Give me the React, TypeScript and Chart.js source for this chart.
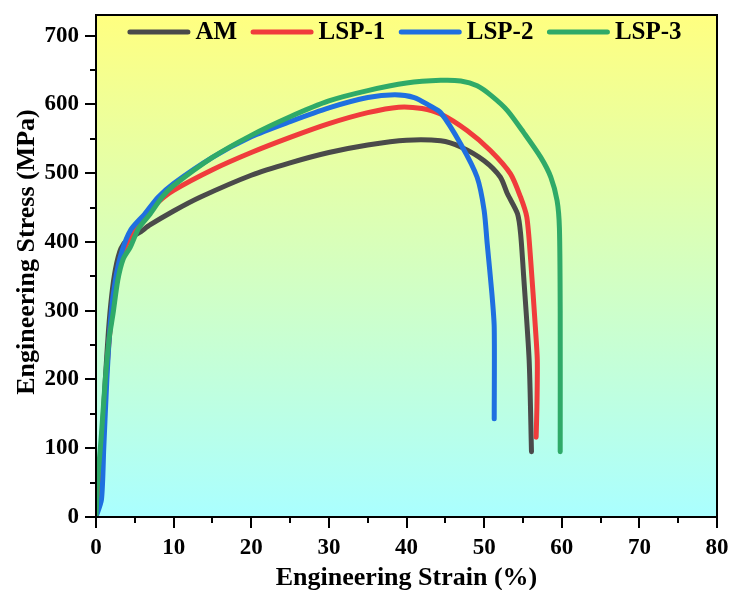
import React, { useEffect, useRef } from 'react';
import { Chart, registerables } from 'chart.js';

Chart.register(...registerables);

const seriesNames = ['AM', 'LSP-1', 'LSP-2', 'LSP-3'];
const seriesColors = ['#4a4a4a', '#f03c3c', '#1f6fe0', '#2faa68'];

const xTicks = [0, 10, 20, 30, 40, 50, 60, 70, 80];
const yTicks = [0, 100, 200, 300, 400, 500, 600, 700];
const xTitle = 'Engineering Strain (%)';
const yTitle = 'Engineering Stress (MPa)';

const amStrain = [0, 0.3, 0.8, 1.2, 1.6, 2.0, 2.5, 3.2, 4.2, 5.5, 7, 10, 13.4, 20, 25, 30, 35, 40, 44.4, 47, 50, 52.1, 53, 54.3, 54.7, 55.1, 55.8, 56.1];
const amStress = [0, 40, 120, 200, 270, 320, 360, 390, 405, 413, 425, 445, 465, 497, 515, 530, 541, 548, 547, 538, 518, 494, 470, 441, 412, 349, 228, 95];

const lsp1Strain = [0, 0.3, 0.8, 1.3, 1.8, 2.4, 3.2, 4.5, 6, 8, 10, 15, 20, 25, 30, 35, 39, 42, 44.4, 47.8, 50.8, 53.4, 54.7, 55.5, 56.0, 56.6, 56.85, 56.8, 56.7];
const lsp1Stress = [0, 40, 120, 200, 270, 330, 375, 410, 435, 458, 475, 505, 530, 552, 572, 588, 596, 594, 586, 562, 533, 499, 465, 436, 373, 276, 228, 160, 116];

const lsp2Strain = [0, 0.7, 1.0, 1.4, 1.9, 2.5, 3.3, 4.5, 6.3, 8, 10, 15, 20, 25, 30, 35, 38.5, 41, 43, 44.4, 47.0, 49.1, 50.0, 50.4, 51.0, 51.3, 51.3];
const lsp2Stress = [0, 25, 100, 200, 290, 345, 385, 418, 441, 465, 485, 523, 553, 575, 595, 610, 614, 610, 598, 588, 542, 494, 446, 397, 325, 276, 143];

const lsp3Strain = [0, 0.2, 0.7, 1.2, 1.7, 2.2, 2.8, 3.5, 4.4, 5.5, 7, 8.5, 10, 15, 20, 25, 30, 35, 40, 44.4, 47, 49.1, 51, 53, 55.1, 57.3, 58.6, 59.4, 59.7, 59.8, 59.8];
const lsp3Stress = [0, 50, 120, 200, 260, 296, 344, 375, 392, 420, 441, 465, 482, 523, 555, 582, 605, 620, 631, 635, 634, 627, 612, 591, 559, 523, 494, 460, 420, 300, 95];

const strainSets = [amStrain, lsp1Strain, lsp2Strain, lsp3Strain];
const stressSets = [amStress, lsp1Stress, lsp2Stress, lsp3Stress];

const FONT = '"Liberation Serif", "Times New Roman", serif';

const bgPlugin = {
  id: 'bgGradient',
  beforeDraw(chart: any) {
    const { ctx, chartArea: a } = chart;
    ctx.save();
    const g = ctx.createLinearGradient(0, a.top, 0, a.bottom);
    g.addColorStop(0, 'rgb(255,255,128)');
    g.addColorStop(1, 'rgb(170,255,255)');
    ctx.fillStyle = g;
    ctx.fillRect(a.left, a.top, a.right - a.left, a.bottom - a.top);
    ctx.restore();
  },
};

const framePlugin = {
  id: 'frameTicks',
  afterDatasetsDraw(chart: any) {
    const { ctx, chartArea: a, scales } = chart;
    const xs = scales.x;
    const ys = scales.y;
    ctx.save();
    ctx.strokeStyle = '#000';
    ctx.lineWidth = 2;
    ctx.strokeRect(a.left, a.top, a.right - a.left, a.bottom - a.top);
    ctx.beginPath();
    for (let v = 0; v <= 80; v += 5) {
      const px = Math.round(xs.getPixelForValue(v));
      const len = v % 10 === 0 ? 11 : 6;
      ctx.moveTo(px, a.bottom);
      ctx.lineTo(px, a.bottom + len);
    }
    for (let v = 0; v <= 700; v += 50) {
      const py = Math.round(ys.getPixelForValue(v));
      const len = v % 100 === 0 ? 11 : 6;
      ctx.moveTo(a.left, py);
      ctx.lineTo(a.left - len, py);
    }
    ctx.stroke();
    // y-axis title
    ctx.translate(27, 252);
    ctx.rotate(-Math.PI / 2);
    ctx.font = `bold 26px ${FONT}`;
    ctx.fillStyle = '#000';
    ctx.textAlign = 'center';
    ctx.textBaseline = 'middle';
    ctx.fillText(yTitle, 0, 0);
    ctx.restore();
  },
};

const legendPlugin = {
  id: 'insideLegend',
  afterDraw(chart: any) {
    const { ctx, chartArea: a } = chart;
    ctx.save();
    ctx.font = `bold 25px ${FONT}`;
    const lineLen = 63;
    const gapText = 5;
    const gapItem = 13.5;
    const items = chart.data.datasets.map((ds: any) => ({
      label: ds.label,
      color: ds.borderColor,
      w: ctx.measureText(ds.label).width,
    }));
    const total =
      items.reduce((s: number, it: any) => s + lineLen + gapText + it.w, 0) + gapItem * (items.length - 1);
    let x = (a.left + a.right) / 2 - total / 2 - 2;
    const y = a.top + 17;
    items.forEach((it: any) => {
      ctx.strokeStyle = it.color;
      ctx.lineWidth = 5;
      ctx.lineCap = 'round';
      ctx.beginPath();
      ctx.moveTo(x + 2.5, y);
      ctx.lineTo(x + lineLen - 2.5, y);
      ctx.stroke();
      x += lineLen + gapText;
      ctx.fillStyle = '#000';
      ctx.textBaseline = 'middle';
      ctx.textAlign = 'left';
      ctx.fillText(it.label, x, y + 1);
      x += it.w + gapItem;
    });
    ctx.restore();
  },
};

function zeroPad(s: any) {
  s.paddingTop = 0;
  s.paddingBottom = 0;
  s.paddingLeft = 0;
  s.paddingRight = 0;
}

export default function App() {
  const canvasRef = useRef<HTMLCanvasElement | null>(null);

  useEffect(() => {
    const canvas = canvasRef.current;
    if (!canvas) return;
    const datasets = seriesNames.map((name, i) => ({
      label: name,
      data: strainSets[i].map((x, j) => ({ x, y: stressSets[i][j] })),
      borderColor: seriesColors[i],
      backgroundColor: seriesColors[i],
      borderWidth: 5,
      pointRadius: 0,
      tension: 0.25,
      borderCapStyle: 'round' as const,
      borderJoinStyle: 'round' as const,
      fill: false,
      order: seriesNames.length - i,
    }));

    const chart = new Chart(canvas, {
      type: 'line',
      data: { datasets },
      options: {
        animation: false,
        responsive: false,
        maintainAspectRatio: false,
        layout: { padding: { top: 15, right: 13, left: 0, bottom: 0 } },
        plugins: {
          legend: { display: false },
          tooltip: { enabled: false },
        },
        scales: {
          x: {
            type: 'linear',
            min: 0,
            max: 80,
            afterFit: (s: any) => {
              s.height = 73;
              zeroPad(s);
            },
            afterBuildTicks: (s: any) => {
              s.ticks = xTicks.map((v) => ({ value: v }));
            },
            ticks: {
              stepSize: 10,
              padding: 17,
              color: '#000',
              font: { family: FONT, size: 23, weight: 'bold' },
              maxRotation: 0,
            },
            grid: { display: false, drawTicks: false },
            border: { display: false },
            title: {
              display: true,
              text: xTitle,
              color: '#000',
              font: { family: FONT, size: 26, weight: 'bold' },
              padding: { top: 0, bottom: -4 },
            },
          },
          y: {
            type: 'linear',
            min: 0,
            max: 730,
            afterFit: (s: any) => {
              s.width = 96;
              zeroPad(s);
            },
            afterBuildTicks: (s: any) => {
              s.ticks = yTicks.map((v) => ({ value: v }));
            },
            ticks: {
              stepSize: 100,
              includeBounds: false,
              padding: 17,
              color: '#000',
              font: { family: FONT, size: 23, weight: 'bold' },
            },
            grid: { display: false, drawTicks: false },
            border: { display: false },
            title: { display: false },
          },
        },
      },
      plugins: [bgPlugin, framePlugin, legendPlugin],
    });
    return () => chart.destroy();
  }, []);

  return (
    <div style={{ position: 'absolute', left: 0, top: 0, width: 730, height: 590, background: '#fff' }}>
      <canvas ref={canvasRef} width={730} height={590} style={{ display: 'block', width: 730, height: 590 }} />
    </div>
  );
}
